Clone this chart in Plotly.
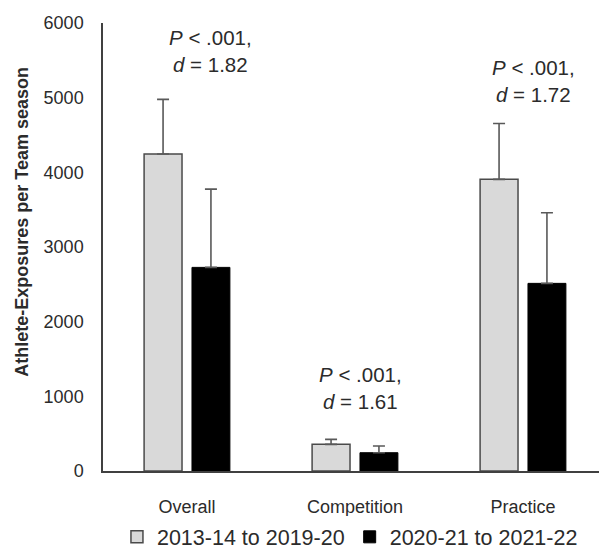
import plotly.graph_objects as go

categories = ["Overall", "Competition", "Practice"]
series_names = ["2013-14 to 2019-20", "2020-21 to 2021-22"]
pre_values = [4245, 357, 3906]
pre_err = [732, 67, 748]
post_values = [2727, 245, 2513]
post_err = [1048, 90, 945]
annot_texts = ["<i>P</i> < .001,<br><i>d</i> = 1.82",
               "<i>P</i> < .001,<br><i>d</i> = 1.61",
               "<i>P</i> < .001,<br><i>d</i> = 1.72"]
annot_y = [5620, 1110, 5220]
annot_dx = [0.14, 0.03, 0.065]
y_ticks = [0, 1000, 2000, 3000, 4000, 5000, 6000]
y_title = "<b>Athlete-Exposures per Team season</b>"

FONT = "Liberation Sans, Arial, sans-serif"
TXT = "#2b2b2b"

fig = go.Figure()
fig.add_trace(go.Bar(
    x=categories, y=pre_values, name=series_names[0],
    marker=dict(color="#d9d9d9", line=dict(color="#4a4a4a", width=1.5)),
    error_y=dict(type="data", array=pre_err, arrayminus=[0]*3, symmetric=False,
                 color="#595959", thickness=1.6, width=6),
))
fig.add_trace(go.Bar(
    x=categories, y=post_values, name=series_names[1],
    marker=dict(color="#000000", line=dict(color="#000000", width=1)),
    error_y=dict(type="data", array=post_err, arrayminus=[0]*3, symmetric=False,
                 color="#595959", thickness=1.6, width=6),
))

for i, (t, yv, dx) in enumerate(zip(annot_texts, annot_y, annot_dx)):
    fig.add_annotation(x=i + dx, y=yv, xref="x", yref="y", text=t,
                       showarrow=False, align="center",
                       font=dict(family=FONT, size=20.5, color=TXT))

# y-axis title (placed as rotated text to match the reference's position)
fig.add_annotation(x=-0.161, y=0.556, xref="paper", yref="paper", text=y_title,
                   textangle=-90, showarrow=False, xanchor="center", yanchor="middle",
                   font=dict(family=FONT, size=18, color=TXT))

fig.update_layout(
    width=599, height=542,
    margin=dict(l=95, r=0, t=15, b=79, autoexpand=False),
    paper_bgcolor="white", plot_bgcolor="white",
    barmode="group", bargap=0.43, bargroupgap=0.208,
    font=dict(family=FONT, size=18, color=TXT),
    showlegend=True,
    legend=dict(orientation="h", x=0.49, xanchor="center", y=-0.147, yanchor="middle",
                font=dict(family=FONT, size=21.5, color=TXT), itemwidth=30,
                tracegroupgap=0, traceorder="normal"),
    xaxis=dict(showline=True, linecolor="#404040", linewidth=1.5, ticks="",
               showgrid=False, tickfont=dict(size=18, color=TXT),
               ticklabelstandoff=19, automargin=False),
    yaxis=dict(range=[0, 6000], tickvals=y_ticks, showline=True, linecolor="#404040",
               linewidth=1.5, ticks="", showgrid=False, zeroline=False,
               tickfont=dict(size=18, color=TXT), ticklabelstandoff=14,
               automargin=False),
)

fig.write_html("out.html")
